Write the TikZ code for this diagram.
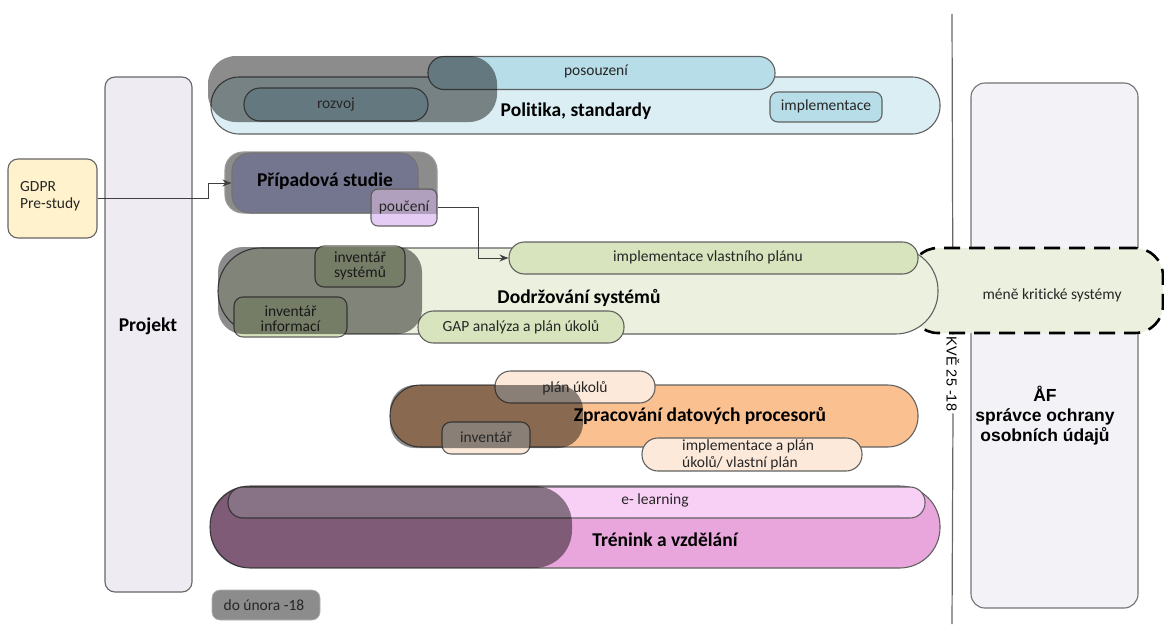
\documentclass[tikz,border=0pt]{standalone}
\usepackage{fontspec}
\setmainfont{Carlito}[Ligatures=NoCommon]
\newfontfamily\lsans{Liberation Sans}
\usetikzlibrary{arrows.meta}
\definecolor{projfill}{HTML}{EEEBF3}
\definecolor{affill}{HTML}{F3F2F7}
\definecolor{gdprfill}{HTML}{FFF2CC}
\definecolor{bluelt}{HTML}{DAEEF3}
\definecolor{bluemd}{HTML}{B7DDE8}
\definecolor{studfill}{HTML}{74768F}
\definecolor{shadowgray}{HTML}{8C8C8C}
\definecolor{poufill}{HTML}{E4CCF4}
\definecolor{greenlt}{HTML}{EBF1DE}
\definecolor{greenmd}{HTML}{D7E4BD}
\definecolor{orangemd}{HTML}{FAC090}
\definecolor{orangelt}{HTML}{FDE9D9}
\definecolor{pinkmd}{HTML}{E8A6DC}
\definecolor{pinklt}{HTML}{F9D0F5}
\definecolor{datefill}{HTML}{8C8C8C}
\tikzset{
  pill/.style={draw=black!62, line width=1.1pt, inner sep=0pt, rectangle},
  small/.style={font=\fontsize{15.5}{17}\selectfont, text=black!85, inner sep=0pt},
  title/.style={font=\fontsize{19.5}{22}\selectfont\bfseries, text=black, inner sep=0pt},
  veil/.style={fill=black, fill opacity=.45, draw=none, inner sep=0pt, rectangle},
  conn/.style={draw=black!75, line width=1pt, -{Stealth[length=9pt,width=7pt]}},
}
\begin{document}
\begin{tikzpicture}[x=1pt,y=-1pt]
\useasboundingbox[fill=white] (0,0) rectangle (1164,624);

% right side: ÅF box and time line
\node[pill, fill=affill, draw=black!55, minimum width=167, minimum height=525, rounded corners=14] (af) at (1054.5,345.5) {};
\node[font=\lsans\bfseries\fontsize{17.5}{20}\selectfont, align=center, inner sep=0pt] (aft) at (1045,416) {ÅF\\správce ochrany\\osobních údajů};
\coordinate (vt) at (952,14);
\coordinate (vb) at (952,624);
\node[rotate=-90, font=\lsans\fontsize{14.5}{16}\selectfont, inner sep=2pt] (kve) at (953,374) {KVĚ 25 -18};
\draw[line width=1.2pt, draw=black!60] (vt) -- (kve.west);
\draw[line width=1.2pt, draw=black!60] (kve.east) -- (vb);

% Projekt
\node[pill, fill=projfill, draw=black!60, minimum width=87, minimum height=515, rounded corners=10] (proj) at (148.5,334.5) {};
\node[title] (projt) at (148,326) {Projekt};

% GDPR pre-study
\node[pill, fill=gdprfill, draw=black!60, minimum width=89, minimum height=79, rounded corners=10] (gdpr) at (52.5,198.5) {};
\node[small, align=left, anchor=west] (gdprt) at (20,196) {GDPR\\Pre-study};

% Politika, standardy
\node[pill, fill=bluelt, minimum width=729, minimum height=57, rounded corners=28] (pol) at (575.5,105.5) {};
\node[pill, fill=bluemd, minimum width=347, minimum height=33, rounded corners=16] (pos) at (601.5,73) {};
\node[pill, fill=bluemd, minimum width=184, minimum height=33, rounded corners=16] (roz) at (336,104.5) {};
\node[pill, fill=bluemd, minimum width=112, minimum height=30, rounded corners=8] (impl) at (826,107) {};
\node[veil, minimum width=289, minimum height=66, rounded corners=28] (polveil) at (352.5,89) {};
\node[small] (post) at (596,71) {posouzení};
\node[small] (rozt) at (336,104) {rozvoj};
\node[small] (implt) at (826,106) {implementace};
\node[title] (polt) at (576,111) {Politika, standardy};

% Případová studie
\node[pill, fill=shadowgray, draw=black!40, minimum width=212, minimum height=61, rounded corners=18] (studsh) at (331,182.5) {};
\node[pill, fill=studfill, draw=black!55, minimum width=186, minimum height=60, rounded corners=18] (stud) at (325,183) {};
\node[title] (studt) at (325,181) {Případová studie};
\node[pill, fill=poufill, draw=black!60, minimum width=66, minimum height=37, rounded corners=7] (pou) at (404,207.5) {};
\begin{scope}
  \clip (360,150) rectangle (440,213);
  \fill[black, opacity=.22, rounded corners=7] (371,189) rectangle (437,226);
\end{scope}
\node[small] (pout) at (404,207) {poučení};

% Dodržování systémů
\node[pill, fill=greenlt, draw=black, dash pattern=on 16pt off 9pt, line width=2.6pt, minimum width=253, minimum height=85, rounded corners=28] (mene) at (1036.5,290.5) {};
\node[small] (menet) at (1052,295) {méně kritické systémy};
\node[pill, fill=greenlt, minimum width=720, minimum height=86, rounded corners=42.5] (dod) at (578,291) {};
\node[pill, fill=greenmd, minimum width=206, minimum height=32, rounded corners=15.5] (gap) at (521,327) {};
\node[pill, fill=greenmd, minimum width=409, minimum height=32, rounded corners=15.5] (impv) at (713.5,258) {};
\node[pill, fill=greenmd, minimum width=90, minimum height=41, rounded corners=9] (invs) at (360,266.5) {};
\node[pill, fill=greenmd, minimum width=113, minimum height=40, rounded corners=9] (invi) at (290.5,317) {};
\node[veil, minimum width=204, minimum height=87, rounded corners=25] (dodveil) at (320,290.5) {};
\node[small, align=center, text=black!90] (invst) at (360,266) {inventář\\[-2pt]systémů};
\node[small, align=center, text=black!90] (invit) at (290.5,319) {inventář\\[-2pt]informací};
\node[small] (gapt) at (521,327) {GAP analýza a plán úkolů};
\node[small] (impvt) at (708,257) {implementace vlastního plánu};
\node[title] (dodt) at (579,298) {Dodržování systémů};

% Zpracování datových procesorů
\node[pill, fill=orangemd, minimum width=528, minimum height=62, rounded corners=30.5] (zpr) at (654,416) {};
\node[pill, fill=orangelt, minimum width=160, minimum height=32, rounded corners=15.5] (plan) at (575,387) {};
\node[pill, fill=orangelt, minimum width=88, minimum height=32, rounded corners=9] (inv) at (486,438) {};
\node[veil, minimum width=193, minimum height=63, rounded corners=25] (zprveil) at (486.5,416.5) {};
\node[pill, fill=orangelt, minimum width=220, minimum height=33, rounded corners=16] (impa) at (752,454.5) {};
\node[small] (plant) at (575,388) {plán úkolů};
\node[small] (invt) at (486,437) {inventář};
\node[small, align=left, anchor=west] (impat) at (682,455) {implementace a plán\\úkolů/ vlastní plán};
\node[title] (zprt) at (700,416) {Zpracování datových procesorů};

% Trénink a vzdělání
\node[pill, fill=pinkmd, minimum width=730, minimum height=82, rounded corners=40.5] (tren) at (575,527) {};
\node[pill, fill=pinklt, minimum width=697, minimum height=31, rounded corners=15] (elr) at (576.5,502.5) {};
\node[veil, minimum width=362, minimum height=82, rounded corners=38] (trenveil) at (391,527) {};
\node[small] (elrt) at (655,500) {e- learning};
\node[title] (trent) at (665,540) {Trénink a vzdělání};

% date tag
\node[rectangle, fill=datefill, draw=black!30, line width=.6pt, minimum width=108, minimum height=30, rounded corners=8] (date) at (266,605) {};
\node[small, text=black!85] (datet) at (264,605) {do února -18};

% connectors
\draw[conn] (gdpr.east) -- ++(111,0) |- (stud.west);
\draw[conn] (pou.east) -- ++(41,0) |- (impv.west);
\end{tikzpicture}
\end{document}
